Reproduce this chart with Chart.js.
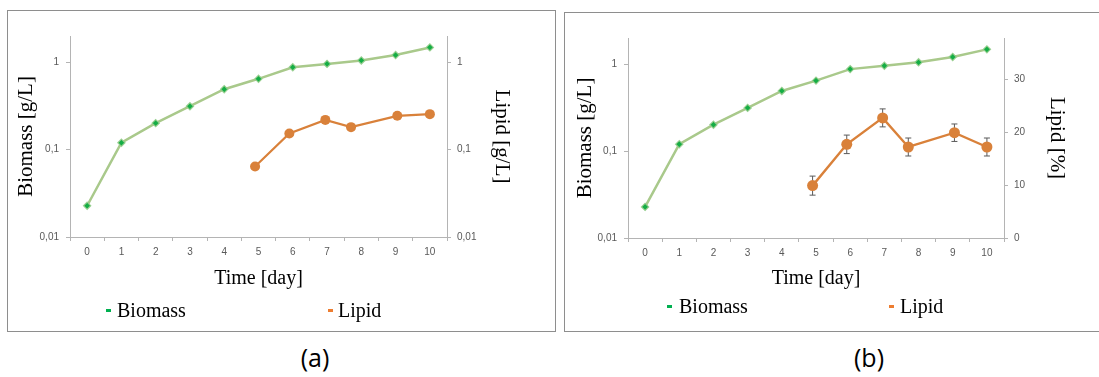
<!DOCTYPE html>
<html>
<head>
<meta charset="utf-8">
<script src="https://cdn.jsdelivr.net/npm/chart.js@4.4.0/dist/chart.umd.min.js"></script>
<style>
  html, body { margin: 0; padding: 0; background: #fff; }
  body { width: 1099px; height: 377px; position: relative; overflow: hidden; }
  .frame { position: absolute; border: 1.5px solid #8e8e8e; box-sizing: border-box; }
  .cv { position: absolute; }
  .leg { position: absolute; font-family: "Liberation Serif", "Times New Roman", serif; font-size: 20px; line-height: 20px; color: #000; white-space: nowrap; }
  .dash { position: absolute; height: 2.5px; width: 5px; }
  .cap { position: absolute; font-family: "Open Sans", "Liberation Sans", sans-serif; font-size: 25px; line-height: 30px; color: #000; width: 80px; text-align: center; }
</style>
</head>
<body>
<div class="frame" style="left:7px;top:10px;width:549px;height:322px;"></div>
<div class="frame" style="left:564px;top:12px;width:545px;height:320px;"></div>

<div class="cv" style="left:7px;top:10px;width:549px;height:322px;"><canvas id="chartA" width="549" height="322"></canvas></div>
<div class="cv" style="left:564px;top:12px;width:535px;height:320px;"><canvas id="chartB" width="535" height="320"></canvas></div>

<!-- legends -->
<div class="dash" style="left:106px;top:309px;background:#00b050;"></div>
<div class="leg" style="left:117px;top:300px;">Biomass</div>
<div class="dash" style="left:328px;top:309px;background:#ed7d31;"></div>
<div class="leg" style="left:338px;top:300px;">Lipid</div>

<div class="dash" style="left:667px;top:305px;background:#00b050;"></div>
<div class="leg" style="left:679px;top:296px;">Biomass</div>
<div class="dash" style="left:889px;top:305px;background:#ed7d31;"></div>
<div class="leg" style="left:900px;top:296px;">Lipid</div>

<div class="cap" style="left:275px;top:342px;">(a)</div>
<div class="cap" style="left:829px;top:342px;">(b)</div>

<script>
// ---- data ----
const days = ['0', '1', '2', '3', '4', '5', '6', '7', '8', '9', '10'];
const biomass = [0.0228, 0.120, 0.201, 0.314, 0.492, 0.647, 0.877, 0.958, 1.05, 1.21, 1.48];
const lipidDays = [4.9, 5.9, 6.95, 7.7, 9.05, 10];
const lipidGL = [0.064, 0.153, 0.219, 0.181, 0.244, 0.255];
const lipidPct = [9.9, 17.7, 22.7, 17.2, 19.9, 17.2];
const lipidPctErr = [1.8, 1.75, 1.7, 1.7, 1.65, 1.7];
const logTicks = [0.01, 0.1, 1];
const pctTicks = [0, 10, 20, 30];

// ---- styles ----
const axisColor = '#b4b4b4';
const tickFont = { family: 'Liberation Sans', size: 10 };
const tickColor = '#595959';
const titleFont = { family: 'Liberation Serif', size: 21 };
const xTitleFont = { family: 'Liberation Serif', size: 20 };
const greenLine = '#a9c98b';
const greenMark = '#14ad45';
const orange = '#d9813a';

function commaFmt(v) { return String(v).replace('.', ','); }

function xScale(height) {
  return {
    type: 'category', position: 'bottom', offset: true,
    grid: { offset: true, drawOnChartArea: false, drawTicks: true, tickLength: 4, color: axisColor },
    border: { color: axisColor, width: 1 },
    ticks: { font: tickFont, color: tickColor, padding: 5, maxRotation: 0, autoSkip: false },
    title: { display: true, text: 'Time [day]', font: xTitleFont, color: '#000', padding: { top: 0, bottom: 41 } },
    afterFit(s) { s.height = height; }
  };
}
function hiddenX() {
  return { type: 'linear', position: 'bottom', display: false, min: -0.5, max: 10.5 };
}
function logY(pos, width, text, pad) {
  return {
    type: 'logarithmic', position: pos, min: 0.01, max: 2,
    grid: { drawOnChartArea: false, drawTicks: true, tickLength: 4, color: axisColor },
    border: { color: axisColor, width: 1 },
    ticks: { font: tickFont, color: tickColor, padding: pos === 'left' ? 7 : 6, callback: (v) => commaFmt(v) },
    afterBuildTicks(s) { s.ticks = logTicks.map(v => ({ value: v })); },
    title: { display: true, text: text, font: titleFont, color: '#000', padding: { top: pad, bottom: 0 } },
    afterFit(s) { s.width = width; }
  };
}

const biomassDataset = {
  label: 'Biomass', data: biomass, xAxisID: 'x', yAxisID: 'y',
  borderColor: greenLine, borderWidth: 2.5, backgroundColor: greenMark,
  pointStyle: 'rectRot', pointRadius: 3.6, pointBorderColor: 'rgba(150,205,140,0.9)', pointBorderWidth: 1.2,
  pointBackgroundColor: greenMark, tension: 0, order: 2
};

const errorBars = {
  id: 'errorBars',
  beforeDatasetsDraw(chart, args, opts) {
    if (!opts || !opts.errors) return;
    const ds = chart.data.datasets[opts.datasetIndex];
    const meta = chart.getDatasetMeta(opts.datasetIndex);
    const ys = chart.scales[ds.yAxisID];
    const ctx = chart.ctx;
    ctx.save();
    ctx.strokeStyle = '#5a5a5a';
    ctx.lineWidth = 1;
    meta.data.forEach((pt, i) => {
      const v = ds.data[i].y, e = opts.errors[i];
      const x = pt.x;
      const y1 = ys.getPixelForValue(v + e), y2 = ys.getPixelForValue(v - e);
      ctx.beginPath();
      ctx.moveTo(x, y1); ctx.lineTo(x, y2);
      ctx.moveTo(x - 3, y1); ctx.lineTo(x + 3, y1);
      ctx.moveTo(x - 3, y2); ctx.lineTo(x + 3, y2);
      ctx.stroke();
    });
    ctx.restore();
  }
};

// ---- chart (a) ----
new Chart(document.getElementById('chartA'), {
  type: 'line',
  data: {
    labels: days,
    datasets: [
      biomassDataset,
      {
        label: 'Lipid', data: lipidDays.map((d, i) => ({ x: d, y: lipidGL[i] })),
        xAxisID: 'x2', yAxisID: 'y2',
        borderColor: orange, borderWidth: 2.2, backgroundColor: orange,
        pointStyle: 'circle', pointRadius: 5, pointBorderWidth: 0, pointBackgroundColor: orange, order: 1
      }
    ]
  },
  options: {
    responsive: false, animation: false, devicePixelRatio: 1,
    layout: { padding: { top: 26, left: 0, right: 0, bottom: 0 } },
    plugins: { legend: { display: false }, tooltip: { enabled: false } },
    scales: {
      x: xScale(95),
      x2: hiddenX(),
      y: logY('left', 63, 'Biomass [g/L]', 7),
      y2: logY('right', 109, 'Lipid [g/L]', 41.5)
    }
  }
});

// ---- chart (b) ----
new Chart(document.getElementById('chartB'), {
  type: 'line',
  data: {
    labels: days,
    datasets: [
      biomassDataset,
      {
        label: 'Lipid', data: lipidDays.map((d, i) => ({ x: d, y: lipidPct[i] })),
        xAxisID: 'x2', yAxisID: 'y2',
        borderColor: orange, borderWidth: 2.4, backgroundColor: orange,
        pointStyle: 'circle', pointRadius: 5.5, pointBorderWidth: 0, pointBackgroundColor: orange, order: 1
      }
    ]
  },
  plugins: [errorBars],
  options: {
    responsive: false, animation: false, devicePixelRatio: 1,
    layout: { padding: { top: 26, left: 0, right: 0, bottom: 0 } },
    plugins: {
      legend: { display: false }, tooltip: { enabled: false },
      errorBars: { datasetIndex: 1, errors: lipidPctErr }
    },
    scales: {
      x: xScale(94),
      x2: hiddenX(),
      y: logY('left', 64, 'Biomass [g/L]', 8.4),
      y2: {
        type: 'linear', position: 'right', min: 0, max: 37.8,
        grid: { drawOnChartArea: false, drawTicks: true, tickLength: 4, color: axisColor },
        border: { color: axisColor, width: 1 },
        ticks: { font: tickFont, color: tickColor, padding: 6 },
        afterBuildTicks(s) { s.ticks = pctTicks.map(v => ({ value: v })); },
        title: { display: true, text: 'Lipid [%]', font: titleFont, color: '#000', padding: { top: 29.7, bottom: 0 } },
        afterFit(s) { s.width = 95; }
      }
    }
  }
});
</script>
</body>
</html>
